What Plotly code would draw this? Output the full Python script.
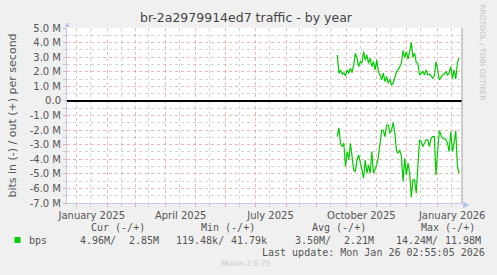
import pandas as pd
import plotly.graph_objects as go

# ---- data ----
title_text = "br-2a2979914ed7 traffic - by year"
y_title = "bits in (-) / out (+) per second"
x_start = "2024-12-22 02:55"
x_end = "2026-01-26 02:55"
data_start = "2025-09-21 19:00"

out_vals = [3.15, 1.9, 2.13, 1.85, 1.94, 1.71, 2.13, 1.9, 2.24, 1.94,
            2.47, 3.27, 2.93, 2.35, 2.7, 2.58, 3.38, 2.81, 3.15, 2.58,
            2.93, 2.35, 2.7, 2.13, 2.81, 2.01, 1.78, 1.44, 1.9, 1.33,
            1.67, 1.21, 1.49, 1.1, 1.21, 1.67, 2.01, 2.13, 2.35, 2.58,
            3.45, 2.99, 3.38, 2.86, 3.38, 4.0, 2.99, 3.27, 2.63, 2.58,
            1.78, 1.94, 2.01, 1.78, 2.13, 1.78, 1.85, 1.71, 1.55, 1.71,
            2.7, 2.17, 1.44, 1.62, 1.78, 1.85, 2.01, 1.78, 1.94, 2.35,
            1.55, 2.13, 1.49, 2.63, 2.93]
in_vals = [-2.45, -1.85, -2.9, -3.13, -2.9, -4.5, -3.47, -4.05, -2.9, -3.82,
           -4.73, -4.85, -4.05, -3.7, -4.16, -4.73, -5.3, -4.05, -4.96, -4.39,
           -4.96, -3.47, -4.96, -4.62, -4.39, -3.82, -2.9, -1.99, -2.03, -2.45,
           -1.65, -1.65, -2.22, -1.99, -1.49, -2.22, -3.41, -3.59, -3.36, -3.82,
           -5.53, -3.93, -5.07, -4.27, -4.96, -6.6, -5.42, -5.42, -6.33, -4.5,
           -2.67, -2.79, -3.13, -2.9, -2.67, -2.67, -3.13, -2.56, -2.45, -2.45,
           -5.07, -3.47, -2.03, -2.33, -2.56, -2.56, -2.67, -2.9, -3.47, -2.1,
           -3.47, -2.9, -2.03, -4.5, -4.96]

month_starts = ["2025-01-01", "2025-02-01", "2025-03-01", "2025-04-01", "2025-05-01",
                "2025-06-01", "2025-07-01", "2025-08-01", "2025-09-01", "2025-10-01",
                "2025-11-01", "2025-12-01", "2026-01-01"]
month_labels = ["January 2025", "", "", "April 2025", "", "", "July 2025", "", "",
                "October 2025", "", "", "January 2026"]
mid_months = ["2024-12-15", "2025-01-15", "2025-02-15", "2025-03-15", "2025-04-15",
              "2025-05-15", "2025-06-15", "2025-07-15", "2025-08-15", "2025-09-15",
              "2025-10-15", "2025-11-15", "2025-12-15", "2026-01-15"]
y_ticks = [5, 4, 3, 2, 1, 0, -1, -2, -3, -4, -5, -6, -7]
y_labels = ["5.0 M", "4.0 M", "3.0 M", "2.0 M", "1.0 M", "0.0", "-1.0 M", "-2.0 M",
            "-3.0 M", "-4.0 M", "-5.0 M", "-6.0 M", "-7.0 M"]
y_minor = [4.5, 3.5, 2.5, 1.5, 0.5, -0.5, -1.5, -2.5, -3.5, -4.5, -5.5, -6.5]

legend_headers = ["Cur (-/+)", "Min (-/+)", "Avg (-/+)", "Max (-/+)"]
legend_values = ["4.96M/", "2.85M", "119.48k/", "41.79k", "3.50M/", "2.21M", "14.24M/", "11.98M"]
series_name = "bps"
last_update = "Last update: Mon Jan 26 02:55:05 2026"
munin_ver = "Munin 2.0.75"
rrd_credit = "RRDTOOL / TOBI OETIKER"

# ---- layout geometry (pixels) ----
W, H = 497, 275
L, R, T, B = 67, 466, 28, 203
PW, PH = R - L, B - T

def px(x):
    return (x - L) / PW

def py(y):
    return (B - y) / PH

dates = pd.date_range(start=data_start, periods=len(out_vals), freq="40h")
green = "#00CC00"

fig = go.Figure()
fig.add_trace(go.Scatter(x=dates, y=[v * 1e6 for v in out_vals], mode="lines",
                         line=dict(color=green, width=1.2), hoverinfo="skip"))
fig.add_trace(go.Scatter(x=dates, y=[v * 1e6 for v in in_vals], mode="lines",
                         line=dict(color=green, width=1.2), hoverinfo="skip"))

major_grid = "rgba(230,110,110,0.5)"
minor_grid = "rgba(150,150,150,0.4)"
tick_font = dict(family="DejaVu Sans", size=10, color="#555555")

fig.update_layout(
    width=W, height=H,
    margin=dict(l=L, r=W - R, t=T, b=H - B, pad=0),
    paper_bgcolor="#F0F0F0", plot_bgcolor="#FFFFFF",
    showlegend=False,
    xaxis=dict(
        range=[x_start, x_end], type="date",
        tickmode="array", tickvals=month_starts, ticktext=month_labels,
        ticklabelshift=15,
        showgrid=True, gridcolor=major_grid, griddash="dot", gridwidth=1,
        ticks="outside", ticklen=3, tickcolor=major_grid,
        tickfont=tick_font,
        minor=dict(tickmode="array", tickvals=mid_months, showgrid=True,
                   gridcolor=minor_grid, griddash="dot", ticks="outside",
                   ticklen=3, tickcolor=minor_grid),
        showline=True, linecolor="#C8C8F0", linewidth=1,
        zeroline=False, fixedrange=True,
    ),
    yaxis=dict(
        range=[-7e6, 5e6],
        tickmode="array", tickvals=[v * 1e6 for v in y_ticks], ticktext=y_labels,
        showgrid=True, gridcolor=major_grid, griddash="dot", gridwidth=1,
        ticks="outside", ticklen=3, tickcolor=major_grid,
        tickfont=tick_font,
        minor=dict(tickmode="array", tickvals=[v * 1e6 for v in y_minor], showgrid=True,
                   gridcolor=minor_grid, griddash="dot", ticks="outside",
                   ticklen=3, tickcolor=minor_grid),
        showline=True, linecolor="#C8C8F0", linewidth=1,
        zeroline=True, zerolinecolor="#000000", zerolinewidth=2,
        title=dict(text=y_title, font=dict(family="DejaVu Sans", size=11, color="#555555"),
                   standoff=10),
        fixedrange=True,
    ),
)

# right frame line
fig.add_shape(type="line", xref="paper", yref="paper", x0=1, x1=1, y0=0, y1=1,
              line=dict(color="#A0A0A0", width=1))

ann = []
ann.append(dict(text=title_text, x=px(248), y=py(18), xref="paper", yref="paper",
                showarrow=False, xanchor="center", yanchor="middle",
                font=dict(family="DejaVu Sans", size=12.5, color="#444444")))
ann.append(dict(text=rrd_credit, x=px(487), y=py(53), xref="paper", yref="paper",
                showarrow=False, textangle=90, xanchor="center", yanchor="middle",
                font=dict(family="DejaVu Sans", size=7.5, color="#C4C4C4")))
# axis arrows
ann.append(dict(text="▲", x=px(67), y=py(24), xref="paper", yref="paper",
                showarrow=False, xanchor="center", yanchor="middle",
                font=dict(size=8, color="#B8C0F0")))
ann.append(dict(text="▶", x=px(471), y=py(203), xref="paper", yref="paper",
                showarrow=False, xanchor="center", yanchor="middle",
                font=dict(size=8, color="#B8C0F0")))

mono = dict(family="DejaVu Sans Mono", size=10, color="#555555")
header_x = [89, 200, 312, 423]
for txt, x in zip(legend_headers, header_x):
    ann.append(dict(text=txt, x=px(x), y=py(227), xref="paper", yref="paper",
                    showarrow=False, xanchor="left", yanchor="middle", font=mono))
ann.append(dict(text=series_name, x=px(27), y=py(240), xref="paper", yref="paper",
                showarrow=False, xanchor="left", yanchor="middle", font=mono))
value_x = [78, 128, 175, 231, 295, 345, 397, 447]
for txt, x in zip(legend_values, value_x):
    ann.append(dict(text=txt, x=px(x), y=py(240), xref="paper", yref="paper",
                    showarrow=False, xanchor="left", yanchor="middle", font=mono))
ann.append(dict(text=last_update, x=px(262), y=py(252), xref="paper", yref="paper",
                showarrow=False, xanchor="left", yanchor="middle", font=mono))
ann.append(dict(text=munin_ver, x=px(248), y=py(263), xref="paper", yref="paper",
                showarrow=False, xanchor="center", yanchor="middle",
                font=dict(family="DejaVu Sans", size=7.6, color="#C8C8C8")))
fig.update_layout(annotations=ann)

# legend swatch
fig.add_shape(type="rect", xref="paper", yref="paper",
              x0=px(14), x1=px(20), y0=py(243), y1=py(237),
              fillcolor=green, line=dict(width=0))

fig.write_html("out.html", config={"displayModeBar": False})
